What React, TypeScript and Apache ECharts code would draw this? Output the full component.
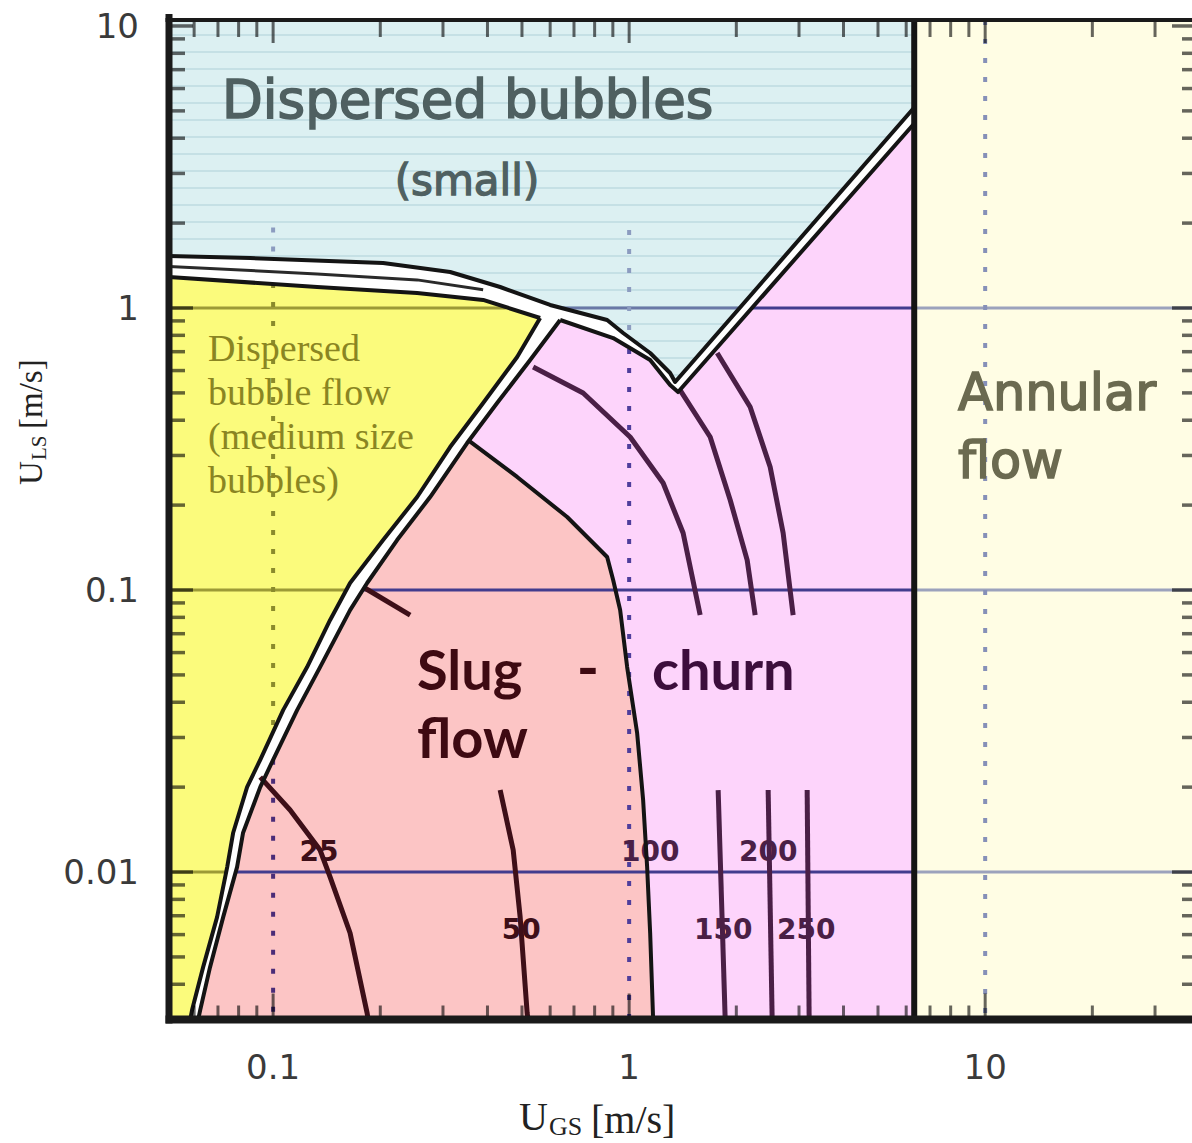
import React, { useEffect, useRef } from "react";
import * as echarts from "echarts";

// ---- axis extents (m/s) ----
const X_MIN = 0.051;
const X_MAX = 39.1;
const Y_MIN = 0.003;
const Y_MAX = 10.5;
const ANNULAR_UGS = 6.32;

// ---- tick labels / tick values ----
const X_TICK_TEXT: Record<string, string> = { "-1": "0.1", "0": "1", "1": "10" };
const Y_TICK_TEXT: Record<string, string> = { "-2": "0.01", "-1": "0.1", "0": "1", "1": "10" };
const X_MAJOR = [0.1, 1, 10];
const X_MINOR = [0.06, 0.07, 0.08, 0.09, 0.2, 0.3, 0.4, 0.5, 0.6, 0.7, 0.8, 0.9, 2, 3, 4, 5, 6, 7, 8, 9, 20, 30];
const Y_MAJOR = [0.01, 0.1, 1, 10];
const Y_MINOR = [0.004, 0.005, 0.006, 0.007, 0.008, 0.009, 0.02, 0.03, 0.04, 0.05, 0.06, 0.07, 0.08, 0.09,
  0.2, 0.3, 0.4, 0.5, 0.6, 0.7, 0.8, 0.9, 2, 3, 4, 5, 6, 7, 8, 9];

// ---- transition boundaries [UGS, ULS] ----
const smallBubbleEdge = [
  [X_MIN, 1.529], [0.0862, 1.504], [0.2037, 1.444], [0.3142, 1.342], [0.4342, 1.187],
  [0.5999, 1.025], [0.8674, 0.9066], [0.9619, 0.8153], [1.1456, 0.6925], [1.3035, 0.5883], [1.3462, 0.5466],
];
const smallBubbleRightEdge = [[1.3462, 0.5466], [ANNULAR_UGS, 5.14]];
const bandMiddle = [[X_MIN, 1.403], [0.1329, 1.321], [0.2538, 1.258], [0.389, 1.16]];
const mediumBubbleTop = [[X_MIN, 1.288], [0.1329, 1.187], [0.2538, 1.13], [0.389, 1.068], [0.5623, 0.9214]];
const mediumBubbleRight = [
  [0.5623, 0.9214], [0.4847, 0.6703], [0.389, 0.4603], [0.3142, 0.3213], [0.2538, 0.2137], [0.2037, 0.1504],
  [0.1645, 0.1059], [0.1446, 0.0783], [0.1246, 0.0533], [0.1067, 0.0375], [0.092, 0.025], [0.0845, 0.02],
  [0.0772, 0.01375], [0.0743, 0.01041], [0.0696, 0.00692], [0.0636, 0.0046], [0.0592, 0.00324], [0.0585, Y_MIN],
];
const churnTop = [[0.6401, 0.9066], [0.9018, 0.7826], [1.1456, 0.6543], [1.3035, 0.5333], [1.3725, 0.5036]];
const churnRightEdge = [[1.3725, 0.5036], [ANNULAR_UGS, 4.51]];
const slugLeftEdge = [
  [0.6401, 0.9066], [0.5272, 0.6543], [0.4258, 0.4603], [0.3507, 0.3321], [0.2761, 0.2137], [0.223, 0.1504],
  [0.1837, 0.1059], [0.1645, 0.0849], [0.1355, 0.0533], [0.1168, 0.0375], [0.1, 0.025], [0.092, 0.02],
  [0.0823, 0.01375], [0.0792, 0.01041], [0.0724, 0.00692], [0.0665, 0.0046], [0.0624, 0.00324], [0.0616, Y_MIN],
];
const slugRightEdge = [
  [0.353, 0.3402], [0.4847, 0.2517], [0.6698, 0.1815], [0.8674, 0.1309], [0.9018, 0.1085], [0.9435, 0.0849],
  [0.9872, 0.0533], [1.0531, 0.0311], [1.0947, 0.018], [1.1234, 0.01041], [1.1456, 0.00608], [1.1679, Y_MIN],
];

// ---- iso-lines ----
const churnLine1 = [[0.5375, 0.6177], [0.7427, 0.4995], [1.0065, 0.3488], [1.2459, 0.2395], [1.4178, 0.1593], [1.5829, 0.0815]];
const churnLine2 = [[1.3906, 0.5117], [1.6891, 0.3488], [1.9223, 0.2085], [2.1456, 0.1277], [2.2593, 0.0815]];
const churnLine3 = [[1.7673, 0.6925], [2.1875, 0.4456], [2.4895, 0.273], [2.7074, 0.1593], [2.8885, 0.0815]];
const slugShortLine = [[0.1789, 0.1025], [0.2426, 0.0815]];
const line25 = [[0.092, 0.0217], [0.1116, 0.0166], [0.1355, 0.01197], [0.1446, 0.0096], [0.1645, 0.00608], [0.1837, 0.00316], [0.1849, Y_MIN]];
const line50 = [[0.4342, 0.01953], [0.4724, 0.01197], [0.4942, 0.00692], [0.5171, 0.00316], [0.52, Y_MIN]];
const line150 = [[1.7783, 0.01953], [1.8612, Y_MIN]];
const line200 = [[2.4572, 0.01953], [2.5218, Y_MIN]];
const line250 = [[3.1623, 0.01953], [3.2034, Y_MIN]];
const isoLabelText = ["25", "50", "100", "150", "200", "250"];
const isoLabelPos = [[0.1346, 0.01178], [0.4973, 0.00628], [1.1456, 0.01178], [1.837, 0.00623], [2.4572, 0.01178], [3.142, 0.00623]];

// ---- grid line pieces: [value, from, to, region] ----
const H_GRID: [number, number, number, string][] = [
  [1, X_MIN, 0.45, "medium"], [1, 0.65, 2.03, "small"], [1, 2.22, ANNULAR_UGS, "churn"], [1, ANNULAR_UGS, X_MAX, "annular"],
  [0.1, X_MIN, 0.161, "medium"], [0.1, 0.18, ANNULAR_UGS, "churn"], [0.1, ANNULAR_UGS, X_MAX, "annular"],
  [0.01, X_MIN, 0.0738, "medium"], [0.01, 0.0785, ANNULAR_UGS, "churn"], [0.01, ANNULAR_UGS, X_MAX, "annular"],
];
const V_GRID: [number, number, number, string][] = [
  [0.1, 1.93, 1.504, "small"], [0.1, 1.227, 0.0314, "medium"], [0.1, 0.025, Y_MIN, "slug"],
  [1, 1.89, 0.776, "small"], [1, 0.7153, Y_MIN, "churn"],
  [10, Y_MAX, Y_MIN, "annular"],
];

const FILL: Record<string, string> = {
  small: "#d9edf0", medium: "#fbfb7c", churn: "#fdd4fb", slug: "#fcc5c5", annular: "#fffde4",
};
const H_COLOR: Record<string, string> = { medium: "#9c9a36", small: "#6a78a6", churn: "#423c8e", annular: "#9ca2bc" };
const V_COLOR: Record<string, string> = { small: "#8c9cc0", medium: "#8a8a2c", slug: "#4a2c78", churn: "#4e3e9c", annular: "#8690b8" };

const smallPoly = [[X_MIN, Y_MAX], [ANNULAR_UGS, Y_MAX], ...smallBubbleRightEdge.slice().reverse(), ...smallBubbleEdge.slice().reverse()];
const mediumPoly = [...mediumBubbleTop, ...mediumBubbleRight, [X_MIN, Y_MIN]];
const churnPoly = [...churnTop, ...churnRightEdge, [ANNULAR_UGS, Y_MIN], ...slugLeftEdge.slice().reverse()];
const slugPoly = [...slugLeftEdge.slice(3).reverse(), ...slugRightEdge];
const annularPoly = [[ANNULAR_UGS, Y_MAX], [X_MAX, Y_MAX], [X_MAX, Y_MIN], [ANNULAR_UGS, Y_MIN]];

function decadeLabel(v: number, table: Record<string, string>) {
  const l = Math.log10(v);
  const e = Math.round(l);
  if (Math.abs(l - e) > 1e-6) return "";
  return table[String(e)] ?? "";
}

let stripeFill: any = FILL.small;
function makeStripes() {
  try {
    const cv = document.createElement("canvas");
    cv.width = 8;
    cv.height = 17;
    const ctx = cv.getContext("2d");
    if (!ctx) return;
    ctx.fillStyle = "#dcf0f2";
    ctx.fillRect(0, 0, 8, 17);
    ctx.fillStyle = "#c5e0e5";
    ctx.fillRect(0, 0, 8, 2);
    stripeFill = { image: cv, repeat: "repeat", imageWidth: 8, imageHeight: 17 };
  } catch (e) {
    stripeFill = FILL.small;
  }
}

const renderRegions = (_p: any, api: any) => {
  const c = (p: number[]) => api.coord(p);
  const poly = (pts: number[][], fill: any) => ({ type: "polygon", shape: { points: pts.map(c) }, style: { fill } });
  return {
    type: "group",
    children: [
      poly(annularPoly, FILL.annular),
      poly(smallPoly, stripeFill),
      poly(mediumPoly, FILL.medium),
      poly(churnPoly, FILL.churn),
      poly(slugPoly, FILL.slug),
    ],
  };
};

const renderGrid = (_p: any, api: any) => {
  const children: any[] = [];
  for (const [y, x1, x2, r] of H_GRID) {
    const a = api.coord([x1, y]);
    const b = api.coord([x2, y]);
    children.push({ type: "line", shape: { x1: a[0], y1: a[1], x2: b[0], y2: b[1] }, style: { stroke: H_COLOR[r], lineWidth: 3 } });
  }
  for (const [x, y1, y2, r] of V_GRID) {
    const a = api.coord([x, y1]);
    const b = api.coord([x, y2]);
    children.push({ type: "line", shape: { x1: a[0], y1: a[1], x2: b[0], y2: b[1] }, style: { stroke: V_COLOR[r], lineWidth: 4, lineDash: [5, 14] } });
  }
  return { type: "group", children };
};

const renderIso = (_p: any, api: any) => {
  const c = (p: number[]) => api.coord(p);
  const pl = (pts: number[][], stroke: string) => ({
    type: "polyline", shape: { points: pts.map(c) }, style: { stroke, lineWidth: 5, fill: null, lineJoin: "round" },
  });
  const children: any[] = [
    pl(churnLine1, "#4a1f46"), pl(churnLine2, "#4a1f46"), pl(churnLine3, "#4a1f46"),
    pl(slugShortLine, "#3d0f18"), pl(line25, "#3d0f18"), pl(line50, "#3d0f18"),
    pl(line150, "#4a1f46"), pl(line200, "#4a1f46"), pl(line250, "#4a1f46"),
  ];
  isoLabelText.forEach((t, i) => {
    const p = c(isoLabelPos[i]);
    children.push({
      type: "text", x: p[0], y: p[1],
      style: { text: t, fontSize: 28, fontWeight: "bold", fontFamily: "DejaVu Sans", fill: i < 2 ? "#3d0f18" : "#4a1f46",
        align: "center", verticalAlign: "middle", textAlign: "center", textVerticalAlign: "middle" },
    });
  });
  return { type: "group", children };
};

const renderBoundaries = (_p: any, api: any) => {
  const c = (p: number[]) => api.coord(p);
  const pl = (pts: number[][], w: number, stroke = "#141414") => ({
    type: "polyline", shape: { points: pts.map(c) }, style: { stroke, lineWidth: w, fill: null, lineJoin: "round" },
  });
  return {
    type: "group",
    children: [
      pl([...smallBubbleEdge, ...smallBubbleRightEdge.slice(1)], 4),
      pl(bandMiddle, 3, "#2a2a2a"),
      pl(mediumBubbleTop, 4),
      pl(mediumBubbleRight, 4),
      pl([...churnTop, ...churnRightEdge.slice(1)], 4),
      pl(slugLeftEdge, 4),
      pl(slugRightEdge, 4),
      pl([[ANNULAR_UGS, Y_MAX], [ANNULAR_UGS, Y_MIN]], 6),
    ],
  };
};

const renderFrame = (_p: any, api: any) => {
  const bl = api.coord([X_MIN, Y_MIN]);
  const tr = api.coord([X_MAX, Y_MAX]);
  const tick = "rgba(0,0,0,0.6)";
  const children: any[] = [];
  const ln = (x1: number, y1: number, x2: number, y2: number, stroke: string, w: number) =>
    children.push({ type: "line", shape: { x1, y1, x2, y2 }, style: { stroke, lineWidth: w } });
  for (const v of [...X_MINOR, ...X_MAJOR]) {
    const major = X_MAJOR.includes(v);
    const x = api.coord([v, Y_MIN])[0];
    ln(x, bl[1], x, bl[1] - (major ? 26 : 14), tick, 3);
    ln(x, tr[1], x, tr[1] + (major ? 23 : 17), tick, 3);
  }
  for (const v of [...Y_MINOR, ...Y_MAJOR]) {
    const major = Y_MAJOR.includes(v);
    const y = api.coord([X_MIN, v])[1];
    ln(bl[0], y, bl[0] + (major ? 24 : 16), y, tick, 3.5);
    ln(tr[0], y, tr[0] - (major ? 24 : 14), y, tick, 3.5);
  }
  ln(bl[0], tr[1] - 6, bl[0], bl[1] + 4, "#1a1a1a", 7);
  ln(bl[0] - 3.5, bl[1], tr[0] + 2, bl[1], "#1a1a1a", 8);
  ln(bl[0] - 3.5, tr[1], tr[0] + 2, tr[1], "#1a1a1a", 4);
  ln(tr[0], tr[1], tr[0], bl[1], "#1a1a1a", 4);
  return { type: "group", children };
};

const txt = (x: number, y: number, text: string, size: number, family: string, fill: string,
  weight = "normal", align = "left", thicken = 0) => ({
  type: "text", x, y, z: 100,
  style: { text, fontSize: size, fontFamily: family, fontWeight: weight, fill, align, verticalAlign: "middle",
    textAlign: align, textVerticalAlign: "middle",
    ...(thicken > 0 ? { stroke: fill, lineWidth: thicken } : {}) },
});

function buildOption(): any {
  return {
    animation: false,
    grid: { left: 169, top: 20, width: 1027, height: 999.5 },
    xAxis: {
      type: "log", logBase: 10, min: X_MIN, max: X_MAX,
      axisLine: { show: false }, axisTick: { show: false }, splitLine: { show: false },
      axisLabel: { formatter: (v: number) => decadeLabel(v, X_TICK_TEXT), fontFamily: "DejaVu Sans", fontSize: 34, color: "#3a3a3a", margin: 30 },
    },
    yAxis: {
      type: "log", logBase: 10, min: Y_MIN, max: Y_MAX,
      axisLine: { show: false }, axisTick: { show: false }, splitLine: { show: false },
      axisLabel: { formatter: (v: number) => decadeLabel(v, Y_TICK_TEXT), fontFamily: "DejaVu Sans", fontSize: 34, color: "#3a3a3a", margin: 30 },
    },
    series: [
      { type: "custom", name: "Flow regimes", coordinateSystem: "cartesian2d", data: [[1, 1]], renderItem: renderRegions, z: 1, silent: true },
      { type: "custom", name: "Grid", coordinateSystem: "cartesian2d", data: [[1, 1]], renderItem: renderGrid, z: 2, silent: true },
      { type: "custom", name: "Iso-lines", coordinateSystem: "cartesian2d", data: [[1, 1]], renderItem: renderIso, z: 3, silent: true },
      { type: "custom", name: "Boundaries", coordinateSystem: "cartesian2d", data: [[1, 1]], renderItem: renderBoundaries, z: 4, silent: true },
      { type: "custom", name: "Frame", coordinateSystem: "cartesian2d", data: [[1, 1]], renderItem: renderFrame, z: 5, silent: true },
    ],
    graphic: {
      elements: [
        txt(222, 99, "Dispersed bubbles", 53, "DejaVu Sans", "#4f6061", "normal", "left", 1.6),
        txt(467, 180, "(small)", 42, "DejaVu Sans", "#4f6061", "normal", "center", 1.3),
        txt(208, 348, "Dispersed", 38, "Liberation Serif", "#8a8522"),
        txt(208, 392, "bubble flow", 38, "Liberation Serif", "#8a8522"),
        txt(208, 436, "(medium size", 38, "Liberation Serif", "#8a8522"),
        txt(208, 480, "bubbles)", 38, "Liberation Serif", "#8a8522"),
        txt(417, 668, "Slug", 56, "Lato", "#3e0a12", "bold"),
        txt(588, 666, "-", 60, "Lato", "#3e0a12", "bold", "center"),
        txt(652, 668, "churn", 56, "Lato", "#3c0e3c", "bold"),
        txt(417, 736, "flow", 56, "Lato", "#3e0a12", "bold"),
        txt(958, 392, "Annular", 51, "DejaVu Sans", "#6b6a50", "normal", "left", 1.6),
        txt(958, 460, "flow", 51, "DejaVu Sans", "#6b6a50", "normal", "left", 1.6),
        txt(519, 1116, "U", 40, "Liberation Serif", "#222"),
        txt(549, 1126, "GS", 26, "Liberation Serif", "#222"),
        txt(591, 1119, "[m/s]", 40, "Liberation Serif", "#222"),
        {
          type: "group", x: 31, y: 485, rotation: Math.PI / 2, z: 100,
          children: [
            txt(0, 0, "U", 33, "Liberation Serif", "#222"),
            txt(25, 8, "LS", 21, "Liberation Serif", "#222"),
            txt(56, 0, "[m/s]", 33, "Liberation Serif", "#222"),
          ],
        },
      ],
    },
  };
}

export default function App() {
  const ref = useRef<HTMLDivElement>(null);
  useEffect(() => {
    if (!ref.current) return;
    makeStripes();
    const chart = echarts.init(ref.current, undefined, { renderer: "svg" });
    chart.setOption(buildOption());
    return () => chart.dispose();
  }, []);
  return (
    <div style={{ position: "absolute", left: 0, top: 0, width: 1192, height: 1143, overflow: "hidden", background: "#fff" }}>
      <div ref={ref} style={{ width: 1200, height: 1143 }} />
    </div>
  );
}
